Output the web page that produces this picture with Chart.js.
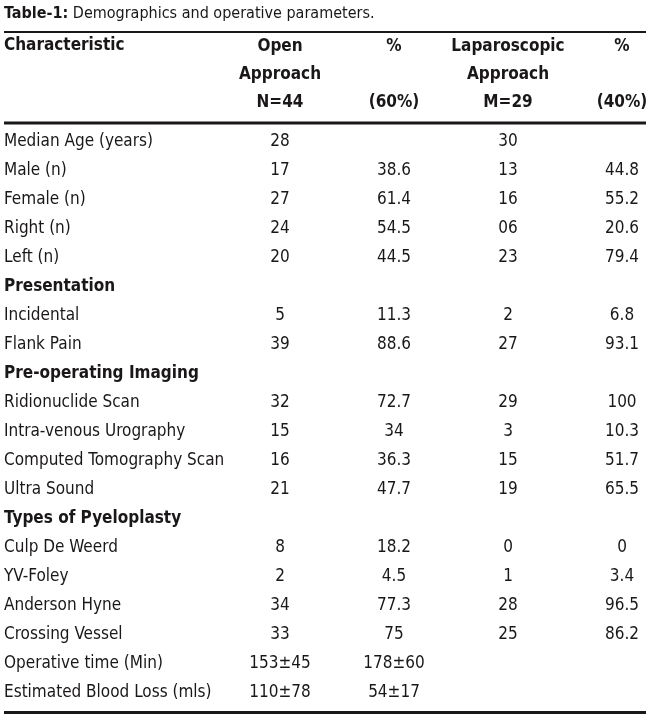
<!DOCTYPE html>
<html>
<head>
<meta charset="utf-8">
<script src="https://cdn.jsdelivr.net/npm/chart.js@4.4.1/dist/chart.umd.min.js"></script>
<style>
  html, body { margin: 0; padding: 0; background: #fff; }
  #wrap { width: 650px; height: 726px; position: relative; }
</style>
</head>
<body>
<div id="wrap"><canvas id="table1"></canvas></div>
<script>
"use strict";

// table content
const rowLabels = [
    'Median Age (years)', 'Male (n)', 'Female (n)', 'Right (n)', 'Left (n)',
    'Presentation', 'Incidental', 'Flank Pain',
    'Pre-operating Imaging', 'Ridionuclide Scan', 'Intra-venous Urography',
    'Computed Tomography Scan', 'Ultra Sound',
    'Types of Pyeloplasty', 'Culp De Weerd', 'YV-Foley', 'Anderson Hyne',
    'Crossing Vessel', 'Operative time (Min)', 'Estimated Blood Loss (mls)'
];
const sectionRows = ['Presentation', 'Pre-operating Imaging', 'Types of Pyeloplasty'];

const columnLabels = [
    ['Open', 'Approach', 'N=44'],
    ['%', '', '(60%)'],
    ['Laparoscopic', 'Approach', 'M=29'],
    ['%', '', '(40%)']
];
const columnKeys = ['open', 'openPct', 'lap', 'lapPct'];

const openN   = ['28', '17', '27', '24', '20', '', '5', '39', '', '32', '15', '16', '21', '', '8', '2', '34', '33', '153±45', '110±78'];
const openPct = ['', '38.6', '61.4', '54.5', '44.5', '', '11.3', '88.6', '', '72.7', '34', '36.3', '47.7', '', '18.2', '4.5', '77.3', '75', '178±60', '54±17'];
const lapN    = ['30', '13', '16', '06', '23', '', '2', '27', '', '29', '3', '15', '19', '', '0', '1', '28', '25', '', ''];
const lapPct  = ['', '44.8', '55.2', '20.6', '79.4', '', '6.8', '93.1', '', '100', '10.3', '51.7', '65.5', '', '0', '3.4', '96.5', '86.2', '', ''];

const titleBold = 'Table-1:';
const titleText = ' Demographics and operative parameters.';
const firstHeader = 'Characteristic';

const FONT = "'Liberation Sans Narrow', 'DejaVu Sans Condensed', 'Arial Narrow', sans-serif";
const INK = '#1a1718';
const SIZE = 17;

Chart.defaults.font.family = FONT;
Chart.defaults.font.size = SIZE;
Chart.defaults.color = INK;

const columns = [openN, openPct, lapN, lapPct];

const datasets = columns.map((values, c) => ({
    label: columnKeys[c],
    data: values.map((v, r) => ({ x: columnKeys[c], y: rowLabels[r], text: v })),
    pointRadius: 0,
    pointHoverRadius: 0,
    showLine: false
}));

// draws the cell strings at the points, plus title and the three rules
const tablePlugin = {
    id: 'tableText',
    afterDatasetsDraw(chart) {
        const ctx = chart.ctx;
        ctx.save();
        ctx.fillStyle = INK;
        ctx.font = SIZE + 'px ' + FONT;
        ctx.textAlign = 'center';
        ctx.textBaseline = 'middle';
        chart.data.datasets.forEach((ds, i) => {
            chart.getDatasetMeta(i).data.forEach((pt, j) => {
                const t = ds.data[j].text;
                if (t) ctx.fillText(t, pt.x, pt.y);
            });
        });
        ctx.restore();
    },
    afterDraw(chart) {
        const ctx = chart.ctx;
        const area = chart.chartArea;
        const x0 = 4, x1 = 646;
        ctx.save();
        ctx.fillStyle = INK;
        ctx.textBaseline = 'middle';
        ctx.textAlign = 'left';

        ctx.font = 'bold 16px ' + FONT;
        ctx.fillText(titleBold, x0, 14);
        const w = ctx.measureText(titleBold).width;
        ctx.font = '16px ' + FONT;
        ctx.fillText(titleText, x0 + w, 14);

        ctx.font = 'bold ' + SIZE + 'px ' + FONT;
        ctx.fillText(firstHeader, x0, 46);

        ctx.strokeStyle = INK;
        ctx.lineWidth = 2;
        ctx.beginPath(); ctx.moveTo(x0, 32); ctx.lineTo(x1, 32); ctx.stroke();
        ctx.lineWidth = 3;
        ctx.beginPath(); ctx.moveTo(x0, area.top - 4.5); ctx.lineTo(x1, area.top - 4.5); ctx.stroke();
        ctx.beginPath(); ctx.moveTo(x0, area.bottom + 5.5); ctx.lineTo(x1, area.bottom + 5.5); ctx.stroke();
        ctx.restore();
    }
};

new Chart(document.getElementById('table1'), {
    type: 'scatter',
    data: { datasets: datasets },
    options: {
        responsive: true,
        maintainAspectRatio: false,
        animation: false,
        devicePixelRatio: 1,
        layout: { padding: { left: 4, right: 28, top: 34, bottom: 19 } },
        plugins: {
            legend: { display: false },
            tooltip: { enabled: false }
        },
        events: [],
        scales: {
            x: {
                type: 'category',
                position: 'top',
                labels: columnKeys,
                offset: false,
                grid: { display: false, drawTicks: false },
                border: { display: false },
                afterFit: (s) => {
                    s.height = 93.5;
                    s.paddingLeft = 0;
                    s.paddingRight = 0;
                },
                ticks: {
                    padding: 11,
                    maxRotation: 0,
                    autoSkip: false,
                    font: { weight: 'bold', size: SIZE, lineHeight: 28 / SIZE },
                    callback: (v, i) => columnLabels[i]
                }
            },
            y: {
                type: 'category',
                position: 'left',
                labels: rowLabels,
                offset: true,
                grid: { display: false, drawTicks: false },
                border: { display: false },
                afterFit: (s) => { s.width = 276; },
                ticks: {
                    crossAlign: 'far',
                    autoSkip: false,
                    padding: 0,
                    font: (c) => ({
                        size: SIZE,
                        weight: sectionRows.includes(rowLabels[c.index]) ? 'bold' : 'normal'
                    })
                }
            }
        }
    },
    plugins: [tablePlugin]
});
</script>
</body>
</html>
